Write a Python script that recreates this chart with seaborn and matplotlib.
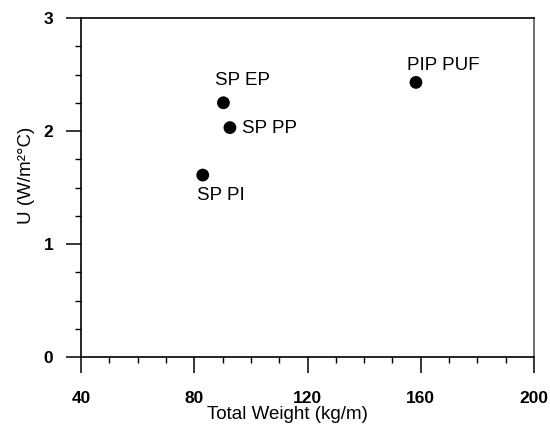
import matplotlib
matplotlib.use("Agg")
import matplotlib.pyplot as plt
from matplotlib.ticker import MultipleLocator
import seaborn as sns
import pandas as pd

# Pipe systems: total weight vs overall heat transfer coefficient
systems = ["SP EP", "SP PP", "SP PI", "PIP PUF"]
total_weight = [90.3, 92.6, 83.0, 158.3]
u_value = [2.25, 2.03, 1.61, 2.43]

df = pd.DataFrame({"system": systems, "weight": total_weight, "u": u_value})

sns.set_style("ticks")
plt.rcParams["font.family"] = ["Liberation Sans", "DejaVu Sans"]
plt.rcParams["text.color"] = "black"
plt.rcParams["axes.labelcolor"] = "black"
plt.rcParams["xtick.color"] = "black"
plt.rcParams["ytick.color"] = "black"

fig = plt.figure(figsize=(5.5, 4.34), dpi=100)
ax = fig.add_axes([81 / 550, 1 - 357 / 434, (534 - 81) / 550, (357 - 18) / 434])

sns.scatterplot(data=df, x="weight", y="u", ax=ax, color="black", s=85,
                edgecolor="none", legend=False, zorder=3)

# label placement (offset in points, alignment)
label_offsets = {
    "SP EP": (14, 16, "center"),
    "SP PP": (9, -1, "left"),
    "SP PI": (13, -15, "center"),
    "PIP PUF": (20, 12, "center"),
}
for name, w, u in zip(systems, total_weight, u_value):
    dx, dy, ha = label_offsets[name]
    ax.annotate(name, (w, u), xytext=(dx, dy), textcoords="offset points",
                ha=ha, va="center", fontsize=13.5, color="black")

ax.set_xlim(40, 200)
ax.set_ylim(0, 3)
ax.xaxis.set_major_locator(MultipleLocator(40))
ax.xaxis.set_minor_locator(MultipleLocator(10))
ax.yaxis.set_major_locator(MultipleLocator(1))
ax.yaxis.set_minor_locator(MultipleLocator(0.25))

ax.tick_params(which="major", direction="out", length=11, width=1.1,
               labelsize=12.5, pad=9, colors="black")
ax.tick_params(which="minor", direction="out", length=4.5, width=1.0,
               colors="black")
ax.tick_params(axis="x", which="major", length=11.5, pad=13)
for lab in ax.get_xticklabels() + ax.get_yticklabels():
    lab.set_fontweight("bold")

for side in ["left", "bottom", "top"]:
    ax.spines[side].set_visible(True)
    ax.spines[side].set_color("black")
    ax.spines[side].set_linewidth(1.2)
ax.spines["right"].set_visible(True)
ax.spines["right"].set_color("#555555")
ax.spines["right"].set_linewidth(1.2)

ax.set_xlabel("Total Weight (kg/m)", fontsize=13.5, color="black")
ax.set_ylabel("U (W/m\u00b2\u00b0C)", fontsize=13.5, color="black")
ax.xaxis.set_label_coords(0.455, -0.146)
ax.yaxis.set_label_coords(-0.102, 0.537)

fig.savefig("out.png", dpi=100)
